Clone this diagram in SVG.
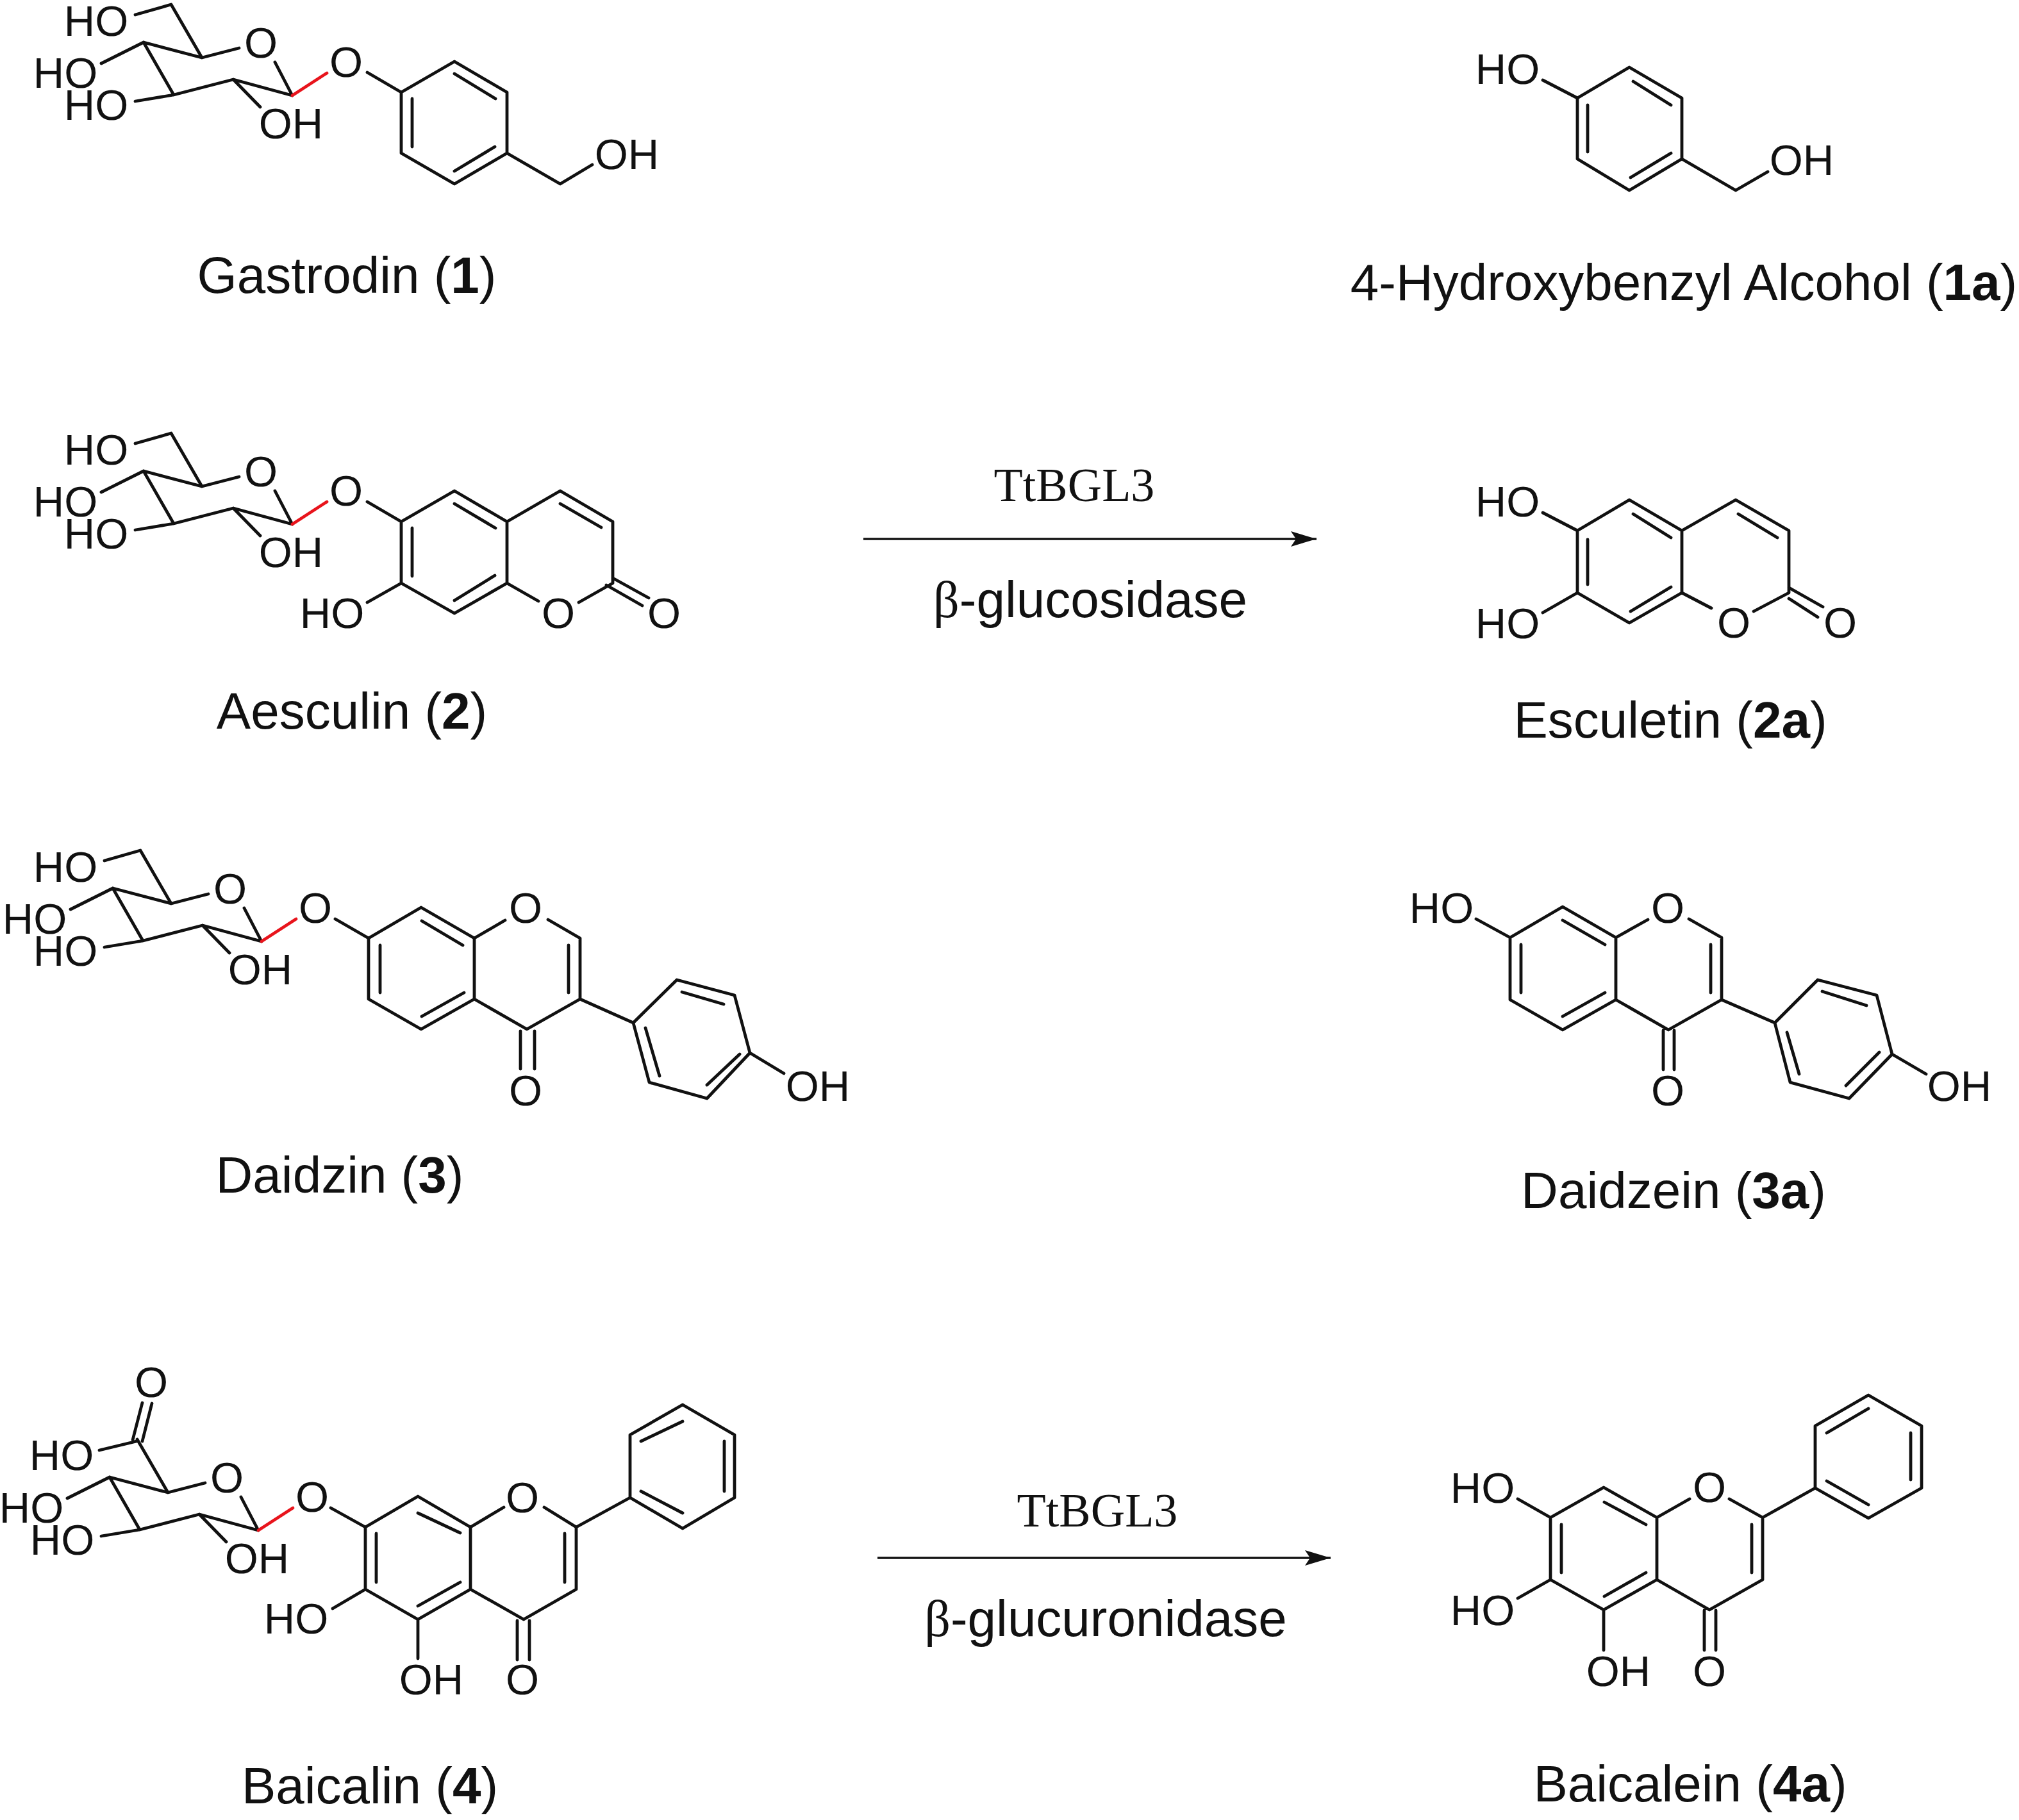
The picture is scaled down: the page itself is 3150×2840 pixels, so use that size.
<svg xmlns="http://www.w3.org/2000/svg" width="3150" height="2840" viewBox="0 0 3150 2840">
<style>
.b{fill:none;stroke:#111;stroke-width:4.8;stroke-linecap:round;stroke-linejoin:round}
.r{fill:none;stroke:#e8141c;stroke-width:4.8;stroke-linecap:round}
.a{fill:#111;font-family:"Liberation Sans",Arial,sans-serif;font-size:67px;text-anchor:middle}
.l{fill:#111;font-family:"Liberation Sans",Arial,sans-serif;font-size:80px;text-anchor:middle}
.l tspan{font-weight:bold}
.s{fill:#111;font-family:"Liberation Serif","Times New Roman",serif;font-size:74px;text-anchor:middle}
.arrow{fill:none;stroke:#111;stroke-width:3.5;marker-end:url(#head)}
</style>
<defs>
<marker id="head" markerUnits="userSpaceOnUse" markerWidth="44" markerHeight="28" refX="40" refY="12" orient="auto"><path d="M0 0L40 12L0 24L8 12Z" fill="#111"/></marker>
</defs>
<rect width="3150" height="2840" fill="#fff"/>
<g id="connectors">
<path class="arrow" d="M1347 841H2054"/>
<path class="arrow" d="M1369 2431H2076"/>
</g>
<g id="reagents-1">
<text class="s" x="1676" y="782">TtBGL3</text>
<text class="l" x="1701" y="963"><tspan style="font-family:'Liberation Serif',serif;font-weight:normal">β</tspan>-glucosidase</text>
</g>
<g id="reagents-2">
<text class="s" x="1712" y="2382">TtBGL3</text>
<text class="l" x="1725" y="2553"><tspan style="font-family:'Liberation Serif',serif;font-weight:normal">β</tspan>-glucuronidase</text>
</g>
<g id="gastrodin">
<path class="b" d="M211 23L267 7L315 90L224 66L271 148L364 124L456 149M373 75L315 90M429 97L456 149M224 66L158 99M271 148L211 158M364 124L406 167"/>
<path class="r" d="M456 149L510 114"/>
<path class="b" d="M573 113L626 144L709 96L791 144V239L709 287L626 239V144M709 115L773 154M643 154V229M709 267L772 229M791 239L874 287L924 257"/>
<text class="a" x="150" y="56">HO</text><text class="a" x="102" y="137">HO</text><text class="a" x="150" y="187">HO</text><text class="a" x="454" y="216">OH</text><text class="a" x="407" y="90">O</text><text class="a" x="540" y="120">O</text><text class="a" x="978" y="264">OH</text>
<text class="l" x="541" y="457">Gastrodin (<tspan>1</tspan>)</text>
</g>
<g id="aesculin">
<g transform="translate(0 669)">
<path class="b" d="M211 23L267 7L315 90L224 66L271 148L364 124L456 149M373 75L315 90M429 97L456 149M224 66L158 99M271 148L211 158M364 124L406 167"/>
<path class="r" d="M456 149L510 114"/>
<text class="a" x="150" y="56">HO</text><text class="a" x="102" y="137">HO</text><text class="a" x="150" y="187">HO</text><text class="a" x="454" y="216">OH</text><text class="a" x="407" y="90">O</text><text class="a" x="540" y="120">O</text>
</g>
<path class="b" d="M573 783L626 814L709 766L791 814V910L709 957L626 910V814M709 786L773 824M643 824V899M709 937L772 898M791 814L874 766L956 814V910L903 940M840 938L791 910M874 786L938 823M956 902L1012 933M946 913L1002 945M626 910L573 940"/>
<text class="a" x="518" y="980">HO</text><text class="a" x="871" y="980">O</text><text class="a" x="1036" y="980">O</text>
<text class="l" x="549" y="1137">Aesculin (<tspan>2</tspan>)</text>
</g>
<g id="daidzin">
<g transform="translate(-48 1320)">
<path class="b" d="M211 23L267 7L315 90L224 66L271 148L364 124L456 149M373 75L315 90M429 97L456 149M224 66L158 99M271 148L211 158M364 124L406 167"/>
<path class="r" d="M456 149L510 114"/>
<text class="a" x="150" y="56">HO</text><text class="a" x="102" y="137">HO</text><text class="a" x="150" y="187">HO</text><text class="a" x="454" y="216">OH</text><text class="a" x="407" y="90">O</text><text class="a" x="540" y="120">O</text>
</g>
<path class="b" d="M523 1434L575 1464L657 1416L740 1464V1559L657 1606L575 1559V1464M658 1437L722 1475M593 1475V1549M658 1586L724 1549M740 1464L788 1436M855 1435L905 1464V1559L822 1606L740 1559M887 1475V1549M812 1609V1668M834 1609V1668M905 1559L988 1596L1056 1529L1146 1553L1170 1643L1103 1714L1013 1689L988 1596M1064 1548L1129 1567M1007 1604L1029 1679M1154 1645L1103 1693M1170 1643L1223 1675"/>
<text class="a" x="820" y="1440">O</text><text class="a" x="820" y="1725">O</text><text class="a" x="1276" y="1718">OH</text>
<text class="l" x="530" y="1861">Daidzin (<tspan>3</tspan>)</text>
</g>
<g id="baicalin">
<g transform="translate(-53 2239)">
<path class="b" d="M267 7L315 90L224 66L271 148L364 124L456 149M373 75L315 90M429 97L456 149M224 66L158 99M271 148L211 158M364 124L406 167"/>
<path class="r" d="M456 149L510 114"/>
<text class="a" x="102" y="137">HO</text><text class="a" x="150" y="187">HO</text><text class="a" x="454" y="216">OH</text><text class="a" x="407" y="90">O</text><text class="a" x="540" y="120">O</text>
</g>
<path class="b" d="M213 2249L155 2263M207 2247L222 2189M222 2249L237 2190M516 2353L570 2383L652 2335L734 2383V2480L652 2527L570 2480V2383M652 2361L718 2392M587 2393V2469M652 2506L718 2469M734 2383L786 2352M849 2352L899 2383V2480L817 2527L734 2480M881 2393V2469M807 2529V2590M826 2529V2590M652 2527V2588M570 2480L519 2510M899 2383L983 2337V2239L1065 2192L1146 2239V2337L1065 2385L983 2337M1000 2249L1065 2218M1130 2249V2327M1000 2327L1065 2361"/>
<text class="a" x="96" y="2294">HO</text><text class="a" x="236" y="2180">O</text><text class="a" x="815" y="2360">O</text><text class="a" x="815" y="2644">O</text><text class="a" x="673" y="2644">OH</text><text class="a" x="462" y="2549">HO</text>
<text class="l" x="577" y="2814">Baicalin (<tspan>4</tspan>)</text>
</g>
<g id="hydroxybenzyl-alcohol">
<path class="b" d="M2407 125L2461 153L2542 105L2624 153V248L2542 297L2461 248V153M2548 127L2607 164M2477 164V237M2544 277L2607 239M2624 248L2708 297L2758 268"/>
<text class="a" x="2352" y="131">HO</text><text class="a" x="2811" y="273">OH</text>
<text class="l" x="2627" y="468">4-Hydroxybenzyl Alcohol (<tspan>1a</tspan>)</text>
</g>
<g id="esculetin">
<path class="b" d="M2407 800L2461 828L2542 780L2624 828V925L2542 972L2461 925V828M2548 802L2607 839M2477 842V912M2544 954L2607 916M2624 828L2708 780L2791 828V925L2736 954M2670 949L2624 925M2712 802L2773 839M2791 917L2844 947M2791 934L2836 963M2461 925L2407 956"/>
<text class="a" x="2352" y="806">HO</text><text class="a" x="2352" y="996">HO</text><text class="a" x="2705" y="995">O</text><text class="a" x="2871" y="995">O</text>
<text class="l" x="2606" y="1151">Esculetin (<tspan>2a</tspan>)</text>
</g>
<g id="daidzein">
<path class="b" d="M2303 1434L2356 1463L2438 1415L2521 1463V1560L2438 1607L2356 1560V1463M2438 1436L2504 1474M2373 1474V1549M2438 1586L2504 1549M2521 1463L2571 1435M2635 1434L2686 1463V1560L2603 1607L2521 1560M2669 1474V1549M2595 1608V1669M2612 1608V1669M2686 1560L2769 1596L2836 1529L2928 1553L2952 1645L2885 1714L2793 1689L2769 1596M2843 1547L2912 1569M2788 1611L2807 1676M2932 1642L2880 1694M2952 1645L3005 1676"/>
<text class="a" x="2249" y="1440">HO</text><text class="a" x="2602" y="1440">O</text><text class="a" x="2602" y="1725">O</text><text class="a" x="3057" y="1718">OH</text>
<text class="l" x="2611" y="1885">Daidzein (<tspan>3a</tspan>)</text>
</g>
<g id="baicalein">
<path class="b" d="M2368 2339L2419 2368L2502 2321L2585 2368V2465L2502 2512L2419 2465V2368M2503 2344L2568 2379M2436 2379V2454M2503 2491L2568 2454M2585 2368L2636 2339M2698 2339L2750 2368V2465L2667 2512L2585 2465M2733 2379V2454M2659 2513V2575M2677 2513V2575M2502 2512V2575M2419 2465L2368 2494M2750 2368L2832 2322V2225L2915 2177L2998 2225V2322L2915 2369L2832 2322M2850 2236L2915 2198M2981 2236V2309M2850 2311L2915 2348"/>
<text class="a" x="2313" y="2345">HO</text><text class="a" x="2313" y="2536">HO</text><text class="a" x="2525" y="2631">OH</text><text class="a" x="2667" y="2344">O</text><text class="a" x="2667" y="2631">O</text>
<text class="l" x="2637" y="2811">Baicalein (<tspan>4a</tspan>)</text>
</g>
</svg>
